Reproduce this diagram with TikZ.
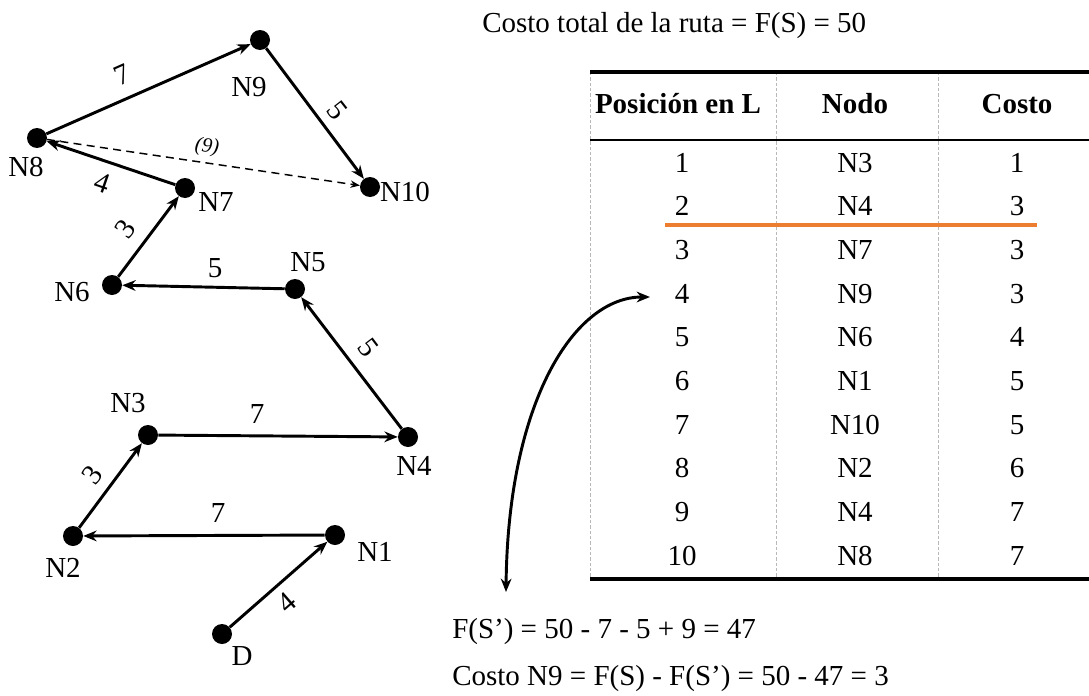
\documentclass[tikz,border=0pt]{standalone}
\usepackage{fontspec}
\setmainfont{Liberation Serif}
\usetikzlibrary{arrows.meta}
\definecolor{orng}{HTML}{ED7D31}
\definecolor{sepgray}{RGB}{185,185,185}
\begin{document}
\begin{tikzpicture}[x=0.75pt,y=-0.75pt,
  dot/.style={circle,fill=black,minimum size=15pt,inner sep=0pt},
  txt/.style={font=\fontsize{21.75}{26}\selectfont,inner sep=0pt},
  small/.style={font=\fontsize{15.5}{18}\selectfont\itshape,inner sep=0pt},
  edgearrow/.style={line width=2.2pt,-{Stealth[length=10pt,width=8pt]}},
  dasharrow/.style={line width=1.1pt,dash pattern=on 6pt off 4pt,-{Stealth[length=7pt,width=5.5pt]}},
  rulethick/.style={line width=2.3pt},
  rulemid/.style={line width=1.8pt},
  sepline/.style={draw=sepgray,line width=0.5pt,dash pattern=on 2.5pt off 1.5pt}
]
\useasboundingbox (0,0) rectangle (1089,696);

% ---- graph nodes
\node[dot] (D)   at (222,634) {};
\node[dot] (N1)  at (335,535) {};
\node[dot] (N2)  at (73,536) {};
\node[dot] (N3)  at (148,435) {};
\node[dot] (N4)  at (408,437) {};
\node[dot] (N5)  at (295,289) {};
\node[dot] (N6)  at (112,285) {};
\node[dot] (N7)  at (185,188) {};
\node[dot] (N8)  at (37,138) {};
\node[dot] (N9)  at (260,40) {};
\node[dot] (N10) at (370,187) {};

% ---- node labels
\node[txt] (LD)  at (242,656) {D};
\node[txt] (L1)  at (375,552) {N1};
\node[txt] (L2)  at (63,568) {N2};
\node[txt] (L3)  at (128,403) {N3};
\node[txt] (L4)  at (414,466) {N4};
\node[txt] (L5)  at (308,262) {N5};
\node[txt] (L6)  at (72,292) {N6};
\node[txt] (L7)  at (216,202) {N7};
\node[txt] (L8)  at (26,167) {N8};
\node[txt] (L9)  at (249,87) {N9};
\node[txt] (L10) at (405,192) {N10};

% ---- edges
\draw[edgearrow] (D) -- (N1);
\draw[edgearrow] (N1) -- (N2);
\draw[edgearrow] (N2) -- (N3);
\draw[edgearrow] (N3) -- (N4);
\draw[edgearrow] (N4) -- (N5);
\draw[edgearrow] (N5) -- (N6);
\draw[edgearrow] (N6) -- (N7);
\draw[edgearrow] (N7) -- (N8);
\draw[edgearrow] (N8) -- (N9);
\draw[edgearrow] (N9) -- (N10);
\draw[dasharrow] (N8) -- (N10);

% ---- edge labels
\node[txt,rotate=41]  (e1)  at (287,603) {4};
\node[txt]            (e2)  at (218,513) {7};
\node[txt,rotate=53]  (e3)  at (92,475) {3};
\node[txt]            (e4)  at (257,414) {7};
\node[txt,rotate=-53] (e5)  at (368,348) {5};
\node[txt]            (e6)  at (215,268) {5};
\node[txt,rotate=53]  (e7)  at (125,229) {3};
\node[txt,rotate=-19] (e8)  at (102,183) {4};
\node[txt,rotate=24]  (e9)  at (122,75) {7};
\node[txt,rotate=-52] (e10) at (337,110) {5};
\node[small,rotate=-8] (e11) at (207,147) {(9)};

% ---- title
\node[txt,anchor=base west] (title) at (482,32) {Costo total de la ruta = F(S) = 50};

% ---- table
\draw[sepline] (590,72) -- (590,579);
\draw[sepline] (776,72) -- (776,579);
\draw[sepline] (938,72) -- (938,579);
\draw[rulethick] (590,72) -- (1089,72);
\draw[rulemid] (590,140) -- (1089,140);
\draw[rulethick] (590,579) -- (1089,579);

\node[txt,font=\fontsize{21.75}{26}\selectfont\bfseries,anchor=base] (h1) at (678,113) {Posición en L};
\node[txt,font=\fontsize{21.75}{26}\selectfont\bfseries,anchor=base] (h2) at (855,113) {Nodo};
\node[txt,font=\fontsize{21.75}{26}\selectfont\bfseries,anchor=base] (h3) at (1017,113) {Costo};

\foreach \p/\n/\c [count=\i] in {1/N3/1,2/N4/3,3/N7/3,4/N9/3,5/N6/4,6/N1/5,7/N10/5,8/N2/6,9/N4/7,10/N8/7}{
  \node[txt,anchor=base] (p\i) at (682,{172+43.7*(\i-1)}) {\p};
  \node[txt,anchor=base] (n\i) at (855,{172+43.7*(\i-1)}) {\n};
  \node[txt,anchor=base] (c\i) at (1017,{172+43.7*(\i-1)}) {\c};
}

\draw[orng,line width=3pt] (665,225) -- (1037,225);

% ---- curved arrow
\coordinate (cA) at (506,592);
\coordinate (cB) at (650,297);
\draw[line width=2.2pt,{Stealth[length=10pt,width=8pt]}-{Stealth[length=10pt,width=8pt]}]
  (cA) .. controls (508,400) and (575,297) .. (cB);

% ---- bottom formulas
\node[txt,anchor=base west] (f1) at (452,638) {F(S’) = 50 - 7 - 5 + 9 = 47};
\node[txt,anchor=base west] (f2) at (452,685) {Costo N9 = F(S) - F(S’) = 50 - 47 = 3};
\end{tikzpicture}
\end{document}
